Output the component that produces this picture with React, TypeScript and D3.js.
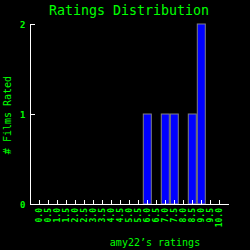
import { useEffect, useRef } from 'react';
import * as d3 from 'd3';

const ratings = ['0.0','0.5','1.0','1.5','2.0','2.5','3.0','3.5','4.0','4.5','5.0','5.5','6.0','6.5','7.0','7.5','8.0','8.5','9.0','9.5','10.0'];
const counts = [0,0,0,0,0,0,0,0,0,0,0,0,1,0,1,1,0,1,2,0,0];
const yTicks = [0, 1, 2];

const title = 'Ratings Distribution';
const xTitle = "amy22\u2019s ratings";
const yTitle = '# Films Rated';

export default function App() {
    const svgRef = useRef(null);

    useEffect(() => {
        const svg = d3.select(svgRef.current);
        svg.selectAll('*').remove();

        const green = '#00ff00';
        const font = '"DejaVu Sans Mono", monospace';

        const x = d3.scaleBand().domain(ratings).range([34.8, 223.8]).paddingInner(0).paddingOuter(0);
        const y = d3.scaleLinear().domain([0, 2]).range([204, 24]);

        svg.append('rect').attr('width', 250).attr('height', 250).attr('fill', '#000');

        svg.append('text')
            .attr('x', 129).attr('y', 15)
            .attr('text-anchor', 'middle')
            .attr('fill', green).attr('font-family', font).attr('font-size', 13.3)
            .text(title);

        // bars
        svg.selectAll('.bar')
            .data(ratings.map((r, i) => ({ r, c: counts[i] })).filter(d => d.c > 0))
            .enter()
            .append('rect')
            .attr('class', 'bar')
            .attr('x', d => x(d.r) + 0.5)
            .attr('y', d => y(d.c))
            .attr('width', x.bandwidth() - 1)
            .attr('height', d => y(0) - y(d.c))
            .attr('fill', '#0000ff')
            .attr('stroke', '#808080')
            .attr('stroke-width', 1);

        // y axis
        svg.append('line')
            .attr('x1', 30.5).attr('x2', 30.5).attr('y1', y(2)).attr('y2', y(0))
            .attr('stroke', '#fff');
        yTicks.filter(t => t > 0).forEach(t => {
            svg.append('line')
                .attr('x1', 30.5).attr('x2', 35).attr('y1', Math.round(y(t)) + 0.5).attr('y2', Math.round(y(t)) + 0.5)
                .attr('stroke', '#fff');
        });
        svg.selectAll('.ytick')
            .data(yTicks)
            .enter()
            .append('text')
            .attr('x', 25.5).attr('y', d => y(d) + 0.5)
            .attr('dy', '0.35em')
            .attr('text-anchor', 'end')
            .attr('fill', green).attr('font-family', font).attr('font-size', 9).attr('font-weight', 'bold')
            .text(d => d);

        // x axis
        svg.append('line')
            .attr('x1', 30).attr('x2', 229).attr('y1', 204.5).attr('y2', 204.5)
            .attr('stroke', '#fff');
        ratings.forEach(r => {
            const cx = Math.round(x(r) + x.bandwidth() / 2) + 0.5;
            svg.append('line')
                .attr('x1', cx).attr('x2', cx).attr('y1', 200).attr('y2', 204)
                .attr('stroke', '#fff');
        });
        svg.selectAll('.xtick')
            .data(ratings)
            .enter()
            .append('text')
            .attr('transform', d => `translate(${x(d) + x.bandwidth() / 2},208) rotate(-90)`)
            .attr('dy', '0.35em')
            .attr('text-anchor', 'end')
            .attr('fill', green).attr('font-family', font).attr('font-size', 8).attr('font-weight', 'bold')
            .text(d => d);

        svg.append('text')
            .attr('x', 155).attr('y', 246)
            .attr('text-anchor', 'middle')
            .attr('fill', green).attr('font-family', font).attr('font-size', 10)
            .text(xTitle);

        svg.append('text')
            .attr('transform', 'translate(11,115) rotate(-90)')
            .attr('text-anchor', 'middle')
            .attr('fill', green).attr('font-family', font).attr('font-size', 10)
            .text(yTitle);
    }, []);

    return (
        <svg ref={svgRef} width="250" height="250" style={{ position: 'absolute', left: 0, top: 0 }}></svg>
    );
}
